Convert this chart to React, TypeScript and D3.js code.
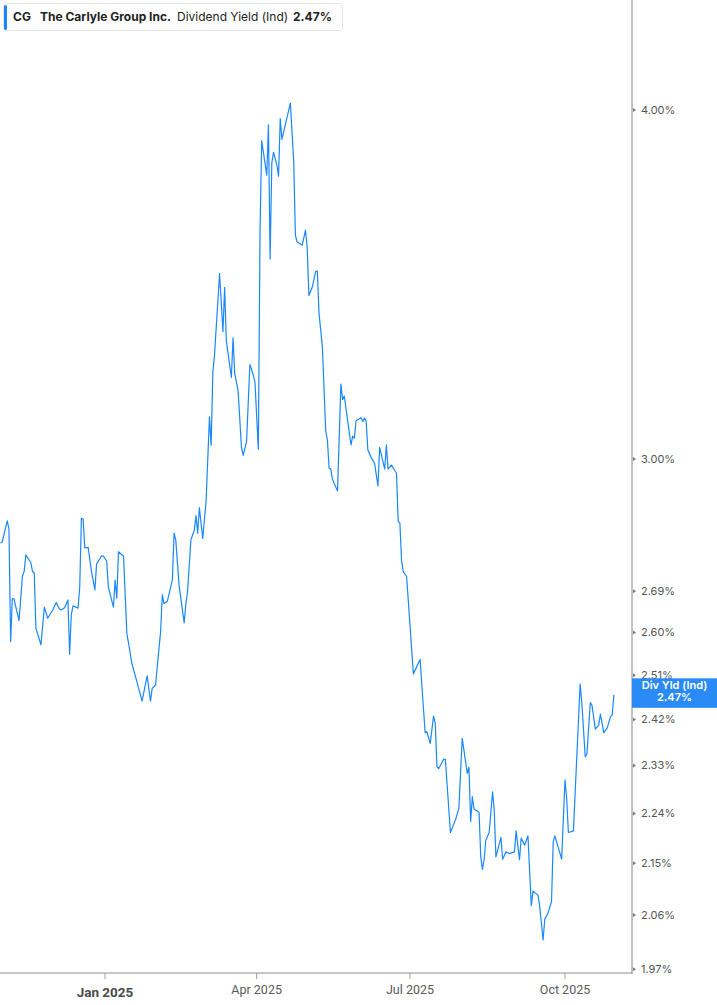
import React from "react";
import * as d3 from "d3";

const ticker = "CG";
const companyName = "The Carlyle Group Inc.";
const metricName = "Dividend Yield (Ind)";
const badgeName = "Div Yld (Ind)";
const lastValue = 2.47;

const dates = [
  "2024-10-31","2024-11-01","2024-11-04","2024-11-05","2024-11-06","2024-11-07","2024-11-08","2024-11-11","2024-11-13","2024-11-14",
  "2024-11-15","2024-11-18","2024-11-19","2024-11-20","2024-11-21","2024-11-24","2024-11-26","2024-11-28","2024-12-01","2024-12-03",
  "2024-12-05","2024-12-06","2024-12-08","2024-12-10","2024-12-11","2024-12-12","2024-12-13","2024-12-16","2024-12-17","2024-12-18",
  "2024-12-19","2024-12-20","2024-12-22","2024-12-24","2024-12-26","2024-12-27","2024-12-30","2024-12-31","2025-01-02","2025-01-03",
  "2025-01-06","2025-01-07","2025-01-08","2025-01-09","2025-01-12","2025-01-14","2025-01-15","2025-01-17","2025-01-21","2025-01-23",
  "2025-01-26","2025-01-28","2025-01-29","2025-01-31","2025-02-03","2025-02-04","2025-02-05","2025-02-07","2025-02-10","2025-02-11",
  "2025-02-12","2025-02-14","2025-02-17","2025-02-18","2025-02-19","2025-02-21","2025-02-23","2025-02-24","2025-02-25","2025-02-26",
  "2025-02-28","2025-03-02","2025-03-04","2025-03-05","2025-03-06","2025-03-07","2025-03-10","2025-03-12","2025-03-13","2025-03-14",
  "2025-03-17","2025-03-18","2025-03-19","2025-03-21","2025-03-23","2025-03-24","2025-03-26","2025-03-28","2025-03-30","2025-03-31",
  "2025-04-02","2025-04-03","2025-04-04","2025-04-07","2025-04-08","2025-04-09","2025-04-10","2025-04-11","2025-04-13","2025-04-14",
  "2025-04-15","2025-04-16","2025-04-21","2025-04-23","2025-04-24","2025-04-25","2025-04-28","2025-04-30","2025-05-01","2025-05-02",
  "2025-05-04","2025-05-06","2025-05-07","2025-05-08","2025-05-10","2025-05-12","2025-05-13","2025-05-14","2025-05-15","2025-05-16",
  "2025-05-19","2025-05-21","2025-05-22","2025-05-23","2025-05-27","2025-05-28","2025-05-29","2025-05-30","2025-06-02","2025-06-03",
  "2025-06-04","2025-06-05","2025-06-06","2025-06-08","2025-06-10","2025-06-12","2025-06-13","2025-06-16","2025-06-17","2025-06-18",
  "2025-06-20","2025-06-23","2025-06-24","2025-06-25","2025-06-26","2025-06-27","2025-06-29","2025-07-03","2025-07-07","2025-07-10",
  "2025-07-11","2025-07-13","2025-07-15","2025-07-16","2025-07-17","2025-07-18","2025-07-21","2025-07-22","2025-07-25","2025-07-28",
  "2025-07-30","2025-08-01","2025-08-04","2025-08-05","2025-08-06","2025-08-07","2025-08-08","2025-08-11","2025-08-12","2025-08-13",
  "2025-08-14","2025-08-15","2025-08-17","2025-08-19","2025-08-20","2025-08-21","2025-08-24","2025-08-25","2025-08-27","2025-08-29",
  "2025-09-01","2025-09-02","2025-09-04","2025-09-05","2025-09-07","2025-09-09","2025-09-11","2025-09-12","2025-09-15","2025-09-16",
  "2025-09-18","2025-09-19","2025-09-21","2025-09-23","2025-09-24","2025-09-25","2025-09-29","2025-10-01","2025-10-02","2025-10-03",
  "2025-10-06","2025-10-08","2025-10-10","2025-10-11","2025-10-13","2025-10-14","2025-10-16","2025-10-17","2025-10-19","2025-10-21",
  "2025-10-22","2025-10-24","2025-10-26","2025-10-28","2025-10-29","2025-10-30",
];

const yields = [
  2.799,2.802,2.851,2.832,2.581,2.674,2.673,2.626,2.724,2.734,
  2.772,2.754,2.734,2.732,2.609,2.574,2.655,2.631,2.649,2.665,
  2.651,2.649,2.654,2.671,2.554,2.638,2.658,2.653,2.699,2.857,
  2.855,2.788,2.789,2.734,2.693,2.751,2.770,2.769,2.758,2.699,
  2.655,2.715,2.675,2.779,2.769,2.597,2.577,2.534,2.483,2.457,
  2.509,2.457,2.483,2.490,2.602,2.682,2.663,2.668,2.716,2.822,
  2.806,2.702,2.621,2.663,2.689,2.807,2.829,2.863,2.822,2.882,
  2.810,2.898,3.106,3.034,3.222,3.269,3.495,3.332,3.456,3.307,
  3.209,3.315,3.219,3.173,3.029,3.009,3.043,3.243,3.215,3.196,
  3.024,3.617,3.900,3.791,3.951,3.538,3.829,3.863,3.823,3.788,
  3.972,3.904,4.023,3.835,3.607,3.588,3.578,3.623,3.570,3.433,
  3.456,3.501,3.503,3.384,3.291,3.070,3.047,2.977,2.975,2.950,
  2.922,3.191,3.151,3.160,3.035,3.057,3.052,3.096,3.104,3.094,
  3.103,3.094,3.022,3.004,2.989,2.934,3.029,2.975,3.035,2.975,
  2.985,2.965,2.849,2.846,2.760,2.734,2.723,2.513,2.543,2.394,
  2.396,2.373,2.427,2.413,2.328,2.324,2.342,2.342,2.205,2.228,
  2.249,2.383,2.315,2.327,2.225,2.271,2.248,2.242,2.161,2.139,
  2.156,2.191,2.205,2.280,2.246,2.161,2.196,2.157,2.170,2.167,
  2.170,2.208,2.156,2.195,2.182,2.199,2.076,2.101,2.094,2.074,
  2.018,2.053,2.064,2.083,2.188,2.199,2.157,2.303,2.268,2.205,
  2.208,2.347,2.492,2.453,2.347,2.352,2.454,2.449,2.401,2.409,
  2.431,2.394,2.403,2.426,2.429,2.470,
];

const yTicks = [4.0, 3.0, 2.69, 2.6, 2.51, 2.42, 2.33, 2.24, 2.15, 2.06, 1.97];
const xTickDates = ["2025-01-01", "2025-04-01", "2025-07-01", "2025-10-01"];
const xTickLabels = ["Jan 2025", "Apr 2025", "Jul 2025", "Oct 2025"];
const xDomain = ["2024-10-30T16:30:00Z", "2025-11-09T18:15:00Z"];

const W = 717;
const H = 1005;
const plotRight = 632;
const plotBottom = 973;
const lineColor = "#1a87fb";
const axisColor = "#a0a0a0";

export default function App() {
  const parse = d3.utcParse("%Y-%m-%d");
  const data = dates.map((d, i) => ({ date: parse(d) as Date, value: yields[i] }));

  const x = d3
    .scaleUtc()
    .domain(xDomain.map((s) => new Date(s)))
    .range([0, plotRight]);
  const y = d3.scaleLog().domain([1.97, 4.0]).range([969.2, 110]);

  const line = d3
    .line<{ date: Date; value: number }>()
    .x((d) => x(d.date))
    .y((d) => y(d.value));

  const lastY = y(lastValue);
  const uiFont = "Inter, 'Noto Sans', sans-serif";
  const axisFont = "Roboto, 'Noto Sans', sans-serif";

  return (
    <div style={{ position: "absolute", left: 0, top: 0, background: "#fff" }}>
      <svg width={W} height={H} style={{ display: "block" }}>
        <rect x={0} y={0} width={W} height={H} fill="#fff" />
        <path
          d={line(data) || ""}
          fill="none"
          stroke={lineColor}
          strokeWidth={1.2}
          strokeLinejoin="round"
        />
        {/* axes */}
        <line x1={0} x2={plotRight} y1={plotBottom} y2={plotBottom} stroke="#b5b5b5" strokeWidth={1.6} />
        <line x1={plotRight} x2={plotRight} y1={0} y2={plotBottom + 1} stroke={axisColor} strokeWidth={1.3} />
        {xTickDates.map((d, i) => {
          const xx = x(parse(d) as Date);
          return (
            <g key={d}>
              <line x1={xx} x2={xx} y1={plotBottom} y2={plotBottom + 6} stroke={axisColor} strokeWidth={1} />
              <text
                x={xx}
                y={i === 0 ? 997 : 994}
                textAnchor="middle"
                fontFamily={axisFont}
                fontSize={i === 0 ? 13.5 : 12.5}
                fontWeight={i === 0 ? 700 : 400}
                fill={i === 0 ? "#4a4a4a" : "#5a5a5a"}
              >
                {xTickLabels[i]}
              </text>
            </g>
          );
        })}
        {yTicks.map((t) => {
          const yy = y(t);
          return (
            <g key={t}>
              <path d={`M${plotRight + 1},${yy - 2} L${plotRight + 4},${yy} L${plotRight + 1},${yy + 2} Z`} fill="#777" />
              <text
                x={641}
                y={yy}
                dy="0.35em"
                fontFamily={uiFont}
                fontSize={11}
                fill="#555"
              >
                {t.toFixed(2)}%
              </text>
            </g>
          );
        })}
        {/* last value badge */}
        <rect x={plotRight} y={lastY - 16.5} width={W - plotRight} height={29.5} fill="#2a8af6" />
        <text x={674.5} y={lastY - 6} textAnchor="middle" fontFamily={uiFont} fontSize={11} fontWeight={600} fill="#fff">
          {badgeName}
        </text>
        <text x={674.5} y={lastY + 6.5} textAnchor="middle" fontFamily={uiFont} fontSize={11} fontWeight={600} fill="#fff">
          {lastValue.toFixed(2)}%
        </text>
        {/* legend */}
        <rect x={3.5} y={3.5} width={339} height={27} rx={3} fill="#fff" stroke="#e4e4e4" />
        <rect x={4} y={5} width={3} height={25} rx={1.5} fill={lineColor} />
        <text y={21} fontFamily={uiFont} fontSize={12} fill="#222">
          <tspan x={13} fontWeight={700}>{ticker}</tspan>
          <tspan x={40} fontWeight={700}>{companyName}</tspan>
          <tspan x={177} fontWeight={400}>{metricName}</tspan>
          <tspan x={293} fontWeight={700}>{lastValue.toFixed(2)}%</tspan>
        </text>
      </svg>
    </div>
  );
}
